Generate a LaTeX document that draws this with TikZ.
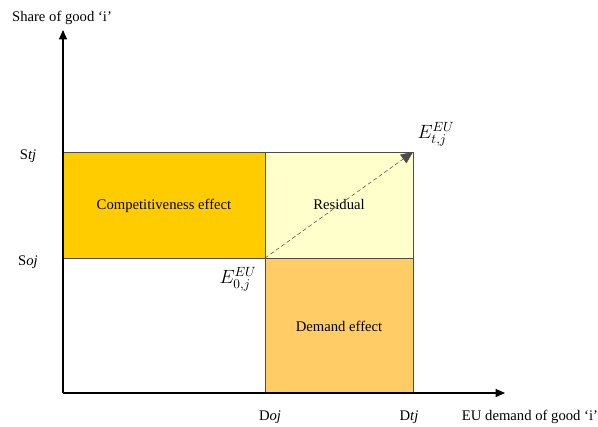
\documentclass[tikz,border=0pt]{standalone}
\usepackage{fontspec}
\setmainfont{Liberation Serif}
\usetikzlibrary{arrows.meta}
\definecolor{compyellow}{RGB}{255,204,0}
\definecolor{residyellow}{RGB}{255,255,204}
\definecolor{demandorange}{RGB}{255,204,102}
\tikzset{
  effectbox/.style={draw=black!70,line width=.6pt},
  axislabel/.style={inner sep=1pt},
  bigmath/.style={font=\fontsize{14}{16}\selectfont,inner sep=1pt}
}

\begin{document}
\begin{tikzpicture}[x=.75pt,y=-.75pt,font=\fontsize{11}{13}\selectfont,>={Triangle[length=7pt,width=6pt]}]
\useasboundingbox (0,0) rectangle (598,426);
% corners of the boxes
\coordinate (origin) at (63,393);
\coordinate (ytop) at (63,30);
\coordinate (xend) at (505,393);
\coordinate (e0) at (265,258);
\coordinate (et) at (413,152);
% effect boxes
\draw[effectbox,fill=compyellow] (63,152) rectangle (e0);
\draw[effectbox,fill=residyellow] (265,152) rectangle (413,258);
\draw[effectbox,fill=demandorange] (e0) rectangle (413,393);
\node (comp) at (164,206) {Competitiveness effect};
\node (resid) at (339,204) {Residual};
\node (demand) at (339,326) {Demand effect};
% axes
\draw[line width=.9pt,->] (origin) -- (ytop);
\draw[line width=.9pt,->] (origin) -- (xend);
\draw[densely dashed,line width=.4pt,black!70,-{Triangle[length=9pt,width=8pt]}] (e0) -- (et);
% labels
\node[axislabel] (yname) at (62,18) {Share of good `i'};
\node[axislabel] (stj) at (28,156) {S\textit{tj}};
\node[axislabel] (soj) at (28,262) {S\textit{oj}};
\node[axislabel] (doj) at (270,417) {D\textit{oj}};
\node[axislabel] (dtj) at (409,417) {D\textit{tj}};
\node[axislabel] (xname) at (530,417) {EU demand of good `i'};
\node[bigmath] (e0lab) at (238,279) {$E^{EU}_{0,j}$};
\node[bigmath] (etlab) at (436,134) {$E^{EU}_{t,j}$};
\end{tikzpicture}
\end{document}
